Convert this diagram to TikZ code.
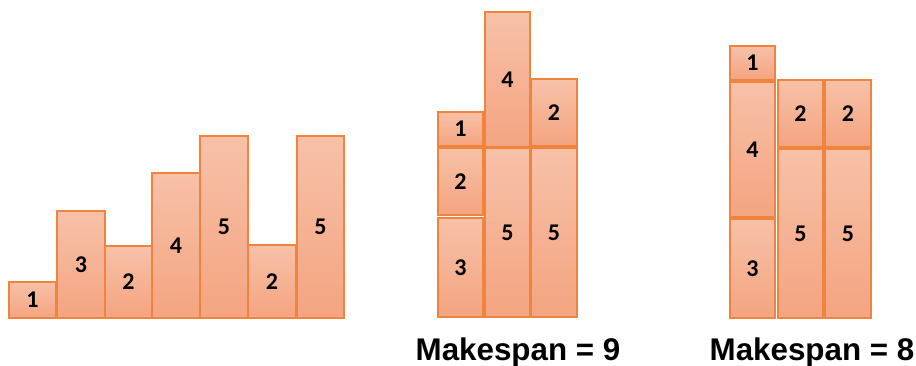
\documentclass[tikz,border=0pt]{standalone}
\usepackage{fontspec}
\setmainfont{Liberation Sans}
\newfontfamily\digitfont{Carlito}
\definecolor{jobtop}{RGB}{247,193,168}
\definecolor{jobbot}{RGB}{244,164,128}
\definecolor{jobline}{RGB}{240,132,62}
\tikzset{
  jobbox/.style={draw=jobline, line width=1pt, top color=jobtop, bottom color=jobbot},
  joblabel/.style={font=\digitfont\bfseries\fontsize{18}{21}\selectfont, inner sep=0pt},
  spanlabel/.style={font=\bfseries\fontsize{23.5}{28}\selectfont, inner sep=0pt}
}
\newcommand\jobrect[6]{%
  \path[jobbox] (#2,#3) rectangle (#4,#5);
  \node[joblabel] (#1) at ({(#2+#4)/2},{(#3+#5)/2}) {#6};}
\begin{document}
\begin{tikzpicture}[x=0.75pt,y=-0.75pt]
\useasboundingbox (0,0) rectangle (916,366);
% left: unsorted jobs
\jobrect{a1}{9}{282}{56}{318}{1}
\jobrect{a2}{57}{211}{105}{318}{3}
\jobrect{a3}{105}{246}{152}{318}{2}
\jobrect{a4}{152}{173}{200}{318}{4}
\jobrect{a5}{200}{136}{248}{318}{5}
\jobrect{a6}{248}{245}{296}{318}{2}
\jobrect{a7}{297}{136}{344}{318}{5}
% middle: makespan 9
\jobrect{b1}{438}{218}{483}{317}{3}
\jobrect{b2}{438}{148}{483}{215}{2}
\jobrect{b3}{438}{112}{483}{146}{1}
\jobrect{b4}{485}{148}{530}{317}{5}
\jobrect{b5}{485}{12}{530}{147}{4}
\jobrect{b6}{531}{148}{577}{317}{5}
\jobrect{b7}{531}{79}{577}{146}{2}
% right: makespan 8
\jobrect{c1}{730}{219}{775}{318}{3}
\jobrect{c2}{730}{82}{775}{217}{4}
\jobrect{c3}{730}{46}{775}{80}{1}
\jobrect{c4}{778}{149}{823}{318}{5}
\jobrect{c5}{778}{80}{823}{147}{2}
\jobrect{c6}{825}{149}{871}{318}{5}
\jobrect{c7}{825}{80}{871}{147}{2}
\node[spanlabel] (m9) at (518,352) {Makespan = 9};
\node[spanlabel] (m8) at (812,352) {Makespan = 8};
\end{tikzpicture}
\end{document}
